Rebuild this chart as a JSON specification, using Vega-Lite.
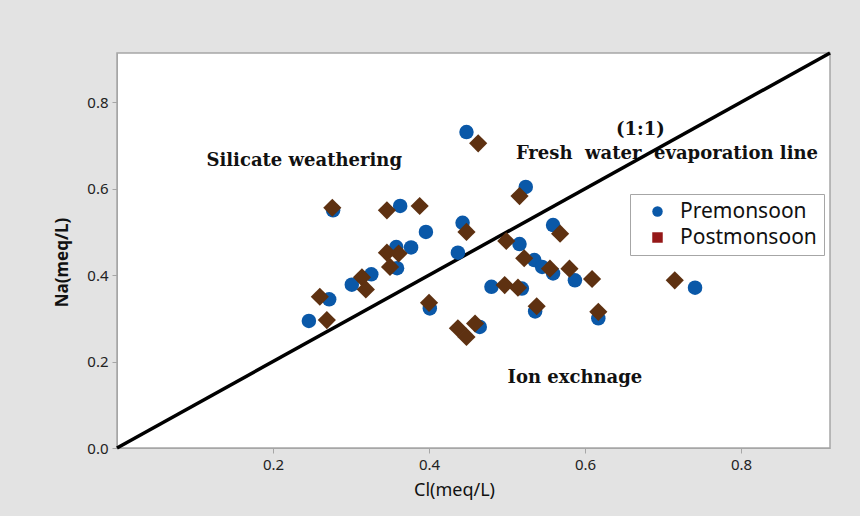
{
  "$schema": "https://vega.github.io/schema/vega-lite/v6.json",
  "width": 713,
  "height": 395,
  "autosize": {"type": "none"},
  "padding": {"left": 117, "top": 53, "right": 30, "bottom": 68},
  "background": "#e3e3e3",
  "config": {
    "view": {"fill": "white", "stroke": "#a6a6a6", "strokeWidth": 1.5},
    "axis": {
      "domainColor": "#a6a6a6",
      "tickColor": "#a6a6a6",
      "tickSize": 5,
      "grid": false,
      "labelFont": "Noto Sans",
      "labelFontSize": 15,
      "labelColor": "#222222",
      "titleFont": "Noto Sans",
      "titleColor": "#111111"
    }
  },
  "data": {
    "values": [
      {"season": "Premonsoon", "Cl": 0.246, "Na": 0.294},
      {"season": "Premonsoon", "Cl": 0.272, "Na": 0.344},
      {"season": "Premonsoon", "Cl": 0.277, "Na": 0.550},
      {"season": "Premonsoon", "Cl": 0.301, "Na": 0.378},
      {"season": "Premonsoon", "Cl": 0.326, "Na": 0.402},
      {"season": "Premonsoon", "Cl": 0.358, "Na": 0.465},
      {"season": "Premonsoon", "Cl": 0.359, "Na": 0.416},
      {"season": "Premonsoon", "Cl": 0.363, "Na": 0.560},
      {"season": "Premonsoon", "Cl": 0.377, "Na": 0.464},
      {"season": "Premonsoon", "Cl": 0.396, "Na": 0.500},
      {"season": "Premonsoon", "Cl": 0.401, "Na": 0.323},
      {"season": "Premonsoon", "Cl": 0.437, "Na": 0.452},
      {"season": "Premonsoon", "Cl": 0.443, "Na": 0.521},
      {"season": "Premonsoon", "Cl": 0.448, "Na": 0.731},
      {"season": "Premonsoon", "Cl": 0.465, "Na": 0.280},
      {"season": "Premonsoon", "Cl": 0.480, "Na": 0.373},
      {"season": "Premonsoon", "Cl": 0.516, "Na": 0.472},
      {"season": "Premonsoon", "Cl": 0.519, "Na": 0.369},
      {"season": "Premonsoon", "Cl": 0.524, "Na": 0.604},
      {"season": "Premonsoon", "Cl": 0.535, "Na": 0.435},
      {"season": "Premonsoon", "Cl": 0.536, "Na": 0.316},
      {"season": "Premonsoon", "Cl": 0.545, "Na": 0.419},
      {"season": "Premonsoon", "Cl": 0.559, "Na": 0.516},
      {"season": "Premonsoon", "Cl": 0.559, "Na": 0.404},
      {"season": "Premonsoon", "Cl": 0.587, "Na": 0.388},
      {"season": "Premonsoon", "Cl": 0.617, "Na": 0.300},
      {"season": "Premonsoon", "Cl": 0.741, "Na": 0.371},
      {"season": "Postmonsoon", "Cl": 0.276, "Na": 0.556},
      {"season": "Postmonsoon", "Cl": 0.346, "Na": 0.550},
      {"season": "Postmonsoon", "Cl": 0.388, "Na": 0.560},
      {"season": "Postmonsoon", "Cl": 0.346, "Na": 0.452},
      {"season": "Postmonsoon", "Cl": 0.361, "Na": 0.450},
      {"season": "Postmonsoon", "Cl": 0.350, "Na": 0.419},
      {"season": "Postmonsoon", "Cl": 0.314, "Na": 0.395},
      {"season": "Postmonsoon", "Cl": 0.319, "Na": 0.367},
      {"season": "Postmonsoon", "Cl": 0.260, "Na": 0.350},
      {"season": "Postmonsoon", "Cl": 0.269, "Na": 0.296},
      {"season": "Postmonsoon", "Cl": 0.400, "Na": 0.336},
      {"season": "Postmonsoon", "Cl": 0.463, "Na": 0.705},
      {"season": "Postmonsoon", "Cl": 0.516, "Na": 0.583},
      {"season": "Postmonsoon", "Cl": 0.448, "Na": 0.500},
      {"season": "Postmonsoon", "Cl": 0.499, "Na": 0.479},
      {"season": "Postmonsoon", "Cl": 0.522, "Na": 0.439},
      {"season": "Postmonsoon", "Cl": 0.555, "Na": 0.415},
      {"season": "Postmonsoon", "Cl": 0.497, "Na": 0.377},
      {"season": "Postmonsoon", "Cl": 0.514, "Na": 0.371},
      {"season": "Postmonsoon", "Cl": 0.538, "Na": 0.328},
      {"season": "Postmonsoon", "Cl": 0.459, "Na": 0.288},
      {"season": "Postmonsoon", "Cl": 0.437, "Na": 0.277},
      {"season": "Postmonsoon", "Cl": 0.448, "Na": 0.257},
      {"season": "Postmonsoon", "Cl": 0.568, "Na": 0.496},
      {"season": "Postmonsoon", "Cl": 0.580, "Na": 0.415},
      {"season": "Postmonsoon", "Cl": 0.609, "Na": 0.391},
      {"season": "Postmonsoon", "Cl": 0.715, "Na": 0.388},
      {"season": "Postmonsoon", "Cl": 0.617, "Na": 0.315}
    ]
  },
  "resolve": {"scale": {"color": "independent", "shape": "independent"}},
  "layer": [
    {
      "data": {"values": [{"label": "Silicate weathering"}]},
      "mark": {"type": "text", "font": "DejaVu Serif", "fontWeight": "bold", "fontSize": 18, "color": "#111111"},
      "encoding": {
        "x": {"datum": 0.240, "type": "quantitative"},
        "y": {"datum": 0.664, "type": "quantitative"},
        "text": {"field": "label"}
      }
    },
    {
      "data": {"values": [{"label": "(1:1)"}]},
      "mark": {"type": "text", "font": "DejaVu Serif", "fontWeight": "bold", "fontSize": 18, "color": "#111111"},
      "encoding": {
        "x": {"datum": 0.671, "type": "quantitative"},
        "y": {"datum": 0.735, "type": "quantitative"},
        "text": {"field": "label"}
      }
    },
    {
      "data": {"values": [{"label": "Fresh\u00a0 water\u00a0 evaporation line"}]},
      "mark": {"type": "text", "font": "DejaVu Serif", "fontWeight": "bold", "fontSize": 18, "color": "#111111"},
      "encoding": {
        "x": {"datum": 0.705, "type": "quantitative"},
        "y": {"datum": 0.681, "type": "quantitative"},
        "text": {"field": "label"}
      }
    },
    {
      "data": {"values": [{"label": "Ion exchnage"}]},
      "mark": {"type": "text", "font": "DejaVu Serif", "fontWeight": "bold", "fontSize": 18, "color": "#111111"},
      "encoding": {
        "x": {"datum": 0.587, "type": "quantitative"},
        "y": {"datum": 0.161, "type": "quantitative"},
        "text": {"field": "label"}
      }
    },
    {
      "data": {"values": [{}]},
      "mark": {"type": "rule", "color": "#000000", "strokeWidth": 3.5},
      "encoding": {
        "x": {"datum": 0, "type": "quantitative"},
        "y": {"datum": 0, "type": "quantitative"},
        "x2": {"datum": 0.914},
        "y2": {"datum": 0.914}
      }
    },
    {
      "mark": {"type": "point", "filled": true, "size": 1, "opacity": 1},
      "encoding": {
        "x": {"field": "Cl", "type": "quantitative"},
        "y": {"field": "Na", "type": "quantitative"},
        "color": {
          "field": "season", "type": "nominal",
          "scale": {"domain": ["Premonsoon", "Postmonsoon"], "range": ["#0a58a8", "#951818"]},
          "legend": {
            "title": null,
            "orient": "none",
            "legendX": 513,
            "legendY": 141,
            "fillColor": "white",
            "strokeColor": "#a6a6a6",
            "padding": 7,
            "labelFont": "Noto Sans",
            "labelFontSize": 21,
            "labelColor": "#111111",
            "symbolSize": 110,
            "symbolOpacity": 1,
            "symbolOffset": 10,
            "labelOffset": 12,
            "rowPadding": 4
          }
        },
        "shape": {
          "field": "season", "type": "nominal",
          "scale": {"domain": ["Premonsoon", "Postmonsoon"], "range": ["circle", "square"]}
        }
      }
    },
    {
      "mark": {"type": "point", "filled": true, "opacity": 1},
      "encoding": {
        "x": {
          "field": "Cl", "type": "quantitative",
          "scale": {"domain": [0, 0.914], "nice": false, "zero": true},
          "axis": {"values": [0.2, 0.4, 0.6, 0.8], "format": ".1f", "title": "Cl(meq/L)", "titleX": 337, "labelPadding": 4, "titlePadding": 9, "titleFontSize": 18, "titleFontWeight": "normal"}
        },
        "y": {
          "field": "Na", "type": "quantitative",
          "scale": {"domain": [0, 0.914], "nice": false, "zero": true},
          "axis": {"values": [0, 0.2, 0.4, 0.6, 0.8], "format": ".1f", "title": "Na(meq/L)", "titleY": 209, "labelPadding": 4, "titlePadding": 15, "titleFontSize": 17, "titleFontWeight": "bold"}
        },
        "color": {
          "field": "season", "type": "nominal",
          "scale": {"domain": ["Premonsoon", "Postmonsoon"], "range": ["#0a58a8", "#5e3111"]},
          "legend": null
        },
        "shape": {
          "field": "season", "type": "nominal",
          "scale": {"domain": ["Premonsoon", "Postmonsoon"], "range": ["circle", "diamond"]},
          "legend": null
        },
        "size": {
          "field": "season", "type": "nominal",
          "scale": {"domain": ["Premonsoon", "Postmonsoon"], "range": [210, 330]},
          "legend": null
        },
        "order": {"field": "season", "sort": "descending"}
      }
    }
  ]
}
